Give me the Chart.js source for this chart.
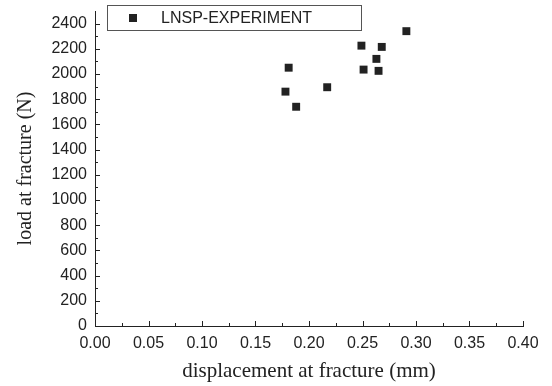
<!DOCTYPE html>
<html lang="en">
<head>
<meta charset="UTF-8">
<title>load vs displacement at fracture</title>
<script src="https://cdn.jsdelivr.net/npm/chart.js"></script>
<style>
  body { margin: 0; background: #fff; }
  #wrap { width: 552px; height: 386px; }
</style>
</head>
<body>
<div id="wrap"><canvas id="chart" width="552" height="386"></canvas></div>
<script>
// values
const seriesName = 'LNSP-EXPERIMENT';
const displacement = [0.178, 0.181, 0.188, 0.217, 0.249, 0.251, 0.263, 0.265, 0.268, 0.291];
const load = [1860, 2050, 1740, 1895, 2225, 2035, 2120, 2025, 2215, 2340];
const xTicks = [0, 0.05, 0.10, 0.15, 0.20, 0.25, 0.30, 0.35, 0.40];
const yTicks = [0, 200, 400, 600, 800, 1000, 1200, 1400, 1600, 1800, 2000, 2200, 2400];

const ink = '#222';
const sansFont = "'Liberation Sans', Arial, sans-serif";
const serifFont = "'Liberation Serif', 'Times New Roman', serif";

// inward major/minor tick marks + boxed legend
const decorations = {
  id: 'decorations',
  afterDraw(chart) {
    const { ctx, chartArea: a, scales: { x, y } } = chart;
    ctx.save();
    ctx.strokeStyle = ink;
    ctx.lineWidth = 1;
    ctx.beginPath();
    for (let i = 0; i < xTicks.length; i++) {
      const px = Math.round(x.getPixelForValue(xTicks[i])) + 0.5;
      ctx.moveTo(px, a.bottom); ctx.lineTo(px, a.bottom - 5);
      if (i < xTicks.length - 1) {
        const mx = Math.round(x.getPixelForValue((xTicks[i] + xTicks[i + 1]) / 2)) + 0.5;
        ctx.moveTo(mx, a.bottom); ctx.lineTo(mx, a.bottom - 3);
      }
    }
    for (let i = 0; i < yTicks.length; i++) {
      const py = Math.round(y.getPixelForValue(yTicks[i])) + 0.5;
      ctx.moveTo(a.left, py); ctx.lineTo(a.left + 5, py);
      const mv = yTicks[i] + 100;
      if (mv < y.max) {
        const my = Math.round(y.getPixelForValue(mv)) + 0.5;
        ctx.moveTo(a.left, my); ctx.lineTo(a.left + 3, my);
      }
    }
    ctx.stroke();

    // legend box
    ctx.fillStyle = '#fff';
    ctx.fillRect(107, 5, 254, 25);
    ctx.strokeStyle = '#555';
    ctx.strokeRect(107.5, 5.5, 254, 25);
    ctx.fillStyle = ink;
    ctx.fillRect(129, 14, 8, 8);
    ctx.font = '16px ' + sansFont;
    ctx.textBaseline = 'middle';
    ctx.fillText(chart.data.datasets[0].label, 161, 18.5);
    ctx.restore();
  }
};

new Chart(document.getElementById('chart'), {
  type: 'scatter',
  data: {
    datasets: [{
      label: seriesName,
      data: displacement.map((d, i) => ({ x: d, y: load[i] })),
      pointStyle: 'rect',
      pointRadius: 5.6,
      pointHoverRadius: 5.6,
      backgroundColor: ink,
      borderColor: ink,
      borderWidth: 0
    }]
  },
  options: {
    responsive: false,
    animation: false,
    layout: { padding: { left: 0, top: 11, right: 29, bottom: 0 } },
    plugins: { legend: { display: false }, tooltip: { enabled: false } },
    scales: {
      x: {
        type: 'linear',
        min: 0,
        max: 0.4,
        afterBuildTicks: s => { s.ticks = xTicks.map(v => ({ value: v })); },
        afterFit: s => { s.height = 60; s.paddingLeft = 0; s.paddingRight = 0; },
        grid: { display: false, drawTicks: false },
        border: { display: true, color: ink, width: 1 },
        ticks: {
          padding: 8,
          color: ink,
          font: { family: sansFont, size: 16 },
          maxRotation: 0,
          callback: v => v.toFixed(2)
        },
        title: {
          display: true,
          text: 'displacement at fracture (mm)',
          color: ink,
          font: { family: serifFont, size: 21 },
          padding: { top: 0, bottom: 2 }
        }
      },
      y: {
        min: 0,
        max: 2500,
        afterBuildTicks: s => { s.ticks = yTicks.map(v => ({ value: v })); },
        afterFit: s => { s.width = 95; s.paddingTop = 0; s.paddingBottom = 0; },
        grid: { display: false, drawTicks: false },
        border: { display: true, color: ink, width: 1 },
        ticks: {
          padding: 8,
          color: ink,
          font: { family: sansFont, size: 16 },
          callback: v => String(v)
        },
        title: {
          display: true,
          text: 'load at fracture (N)',
          color: ink,
          font: { family: serifFont, size: 20 },
          padding: { top: 14, bottom: 0 }
        }
      }
    }
  },
  plugins: [decorations]
});
</script>
</body>
</html>
